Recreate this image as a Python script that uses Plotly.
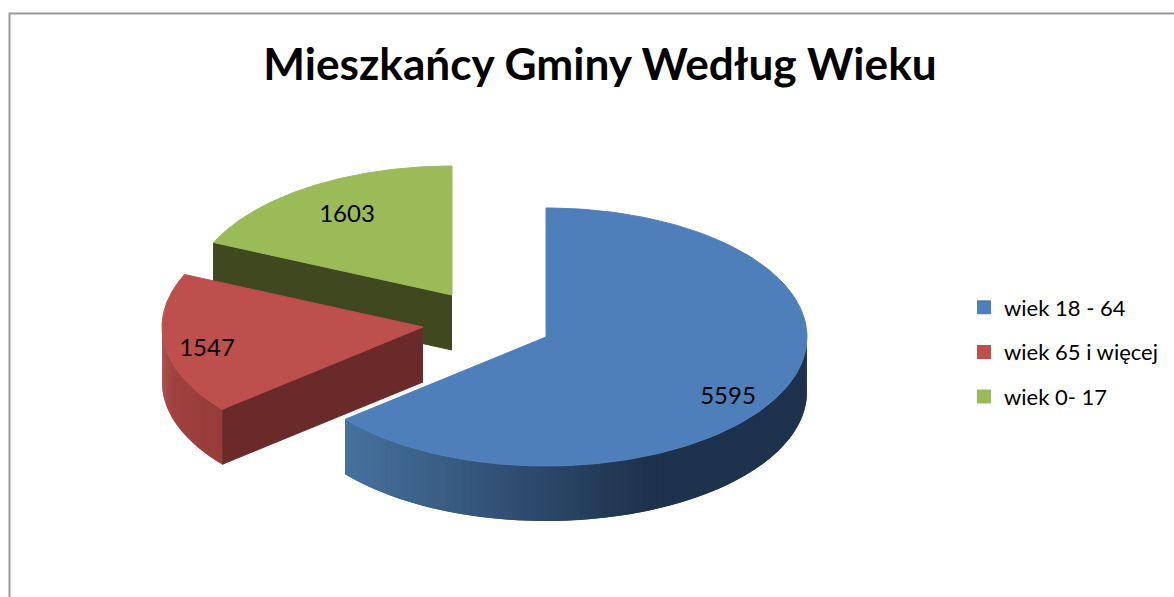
import numpy as np
import plotly.graph_objects as go

# ---- data ----
categories = ["wiek 18 - 64", "wiek 65 i więcej", "wiek 0- 17"]
values = [5595, 1547, 1603]

# ---- style / layout ----
top_colors = ["#4f7fbb", "#bd4f4c", "#9bbb59"]
wall_colors = [None, "#6b2a2a", "#40481f"]
rim_light = ["#47729f", "#a64644", "#7c9647"]
rim_dark = ["#1e324d", "#983d3b", "#7c9647"]
centers = [(546, 337), (423, 327), (452, 295)]
label_pos = [(728, 398), (207, 350), (347, 216)]
RX, RY, DEPTH = 261, 129, 55
W, H = 1174, 597


def pt(center, deg):
    a = np.radians(deg)
    return center[0] + RX * np.sin(a), center[1] - RY * np.cos(a)


def hexmix(c1, c2, t):
    a = [int(c1[i:i + 2], 16) for i in (1, 3, 5)]
    b = [int(c2[i:i + 2], 16) for i in (1, 3, 5)]
    return "#%02x%02x%02x" % tuple(round(x + (y - x) * t) for x, y in zip(a, b))


def poly(x, y, color, width=1):
    return go.Scatter(x=list(x), y=list(y), mode="lines", fill="toself", fillcolor=color,
                      line=dict(color=color, width=width), hoverinfo="skip", showlegend=False)


total = sum(values)
angles = np.cumsum([0] + values) / total * 360
fig = go.Figure()

# back to front: green, red, blue
for i in (2, 1, 0):
    c = centers[i]
    a0, a1 = angles[i], angles[i + 1]

    # straight cut wall visible from the front
    if wall_colors[i]:
        ex, ey = pt(c, a0)
        fig.add_trace(poly([c[0], ex, ex, c[0]], [c[1], ey, ey + DEPTH, c[1] + DEPTH], wall_colors[i]))

    # outer rim facing the viewer, as overlapping gradient strips
    r0, r1 = max(a0, 90), min(a1, 270)
    if r1 > r0:
        steps = np.linspace(r0, r1, 81)
        for k in range(len(steps) - 1):
            s0 = steps[k]
            arc = np.linspace(s0, steps[min(k + 2, len(steps) - 1)], 6)
            ax, ay = pt(c, arc)
            if i == 0:
                t = np.clip((ax[0] - 346) / (650 - 346), 0, 1)
                col = hexmix(rim_light[i], rim_dark[i], t)
            else:
                t = (s0 - r0) / (r1 - r0)
                col = hexmix(rim_dark[i], rim_light[i], t)
            fig.add_trace(poly(np.r_[ax, ax[::-1]], np.r_[ay, ay[::-1] + DEPTH], col, width=0))

    # top face
    th = np.linspace(a0, a1, 160)
    px, py = pt(c, th)
    fig.add_trace(poly(np.r_[c[0], px, c[0]], np.r_[c[1], py, c[1]], top_colors[i]))

# value labels
fig.add_trace(go.Scatter(x=[p[0] for p in label_pos], y=[p[1] for p in label_pos],
                         mode="text", text=[str(v) for v in values],
                         textfont=dict(family="Lato", size=24, color="#000000"),
                         hoverinfo="skip", showlegend=False))

# legend entries
for i, name in enumerate(categories):
    fig.add_trace(go.Scatter(x=[None], y=[None], mode="markers", name=name, legendgroup=name,
                             marker=dict(symbol="square", size=14, color=top_colors[i])))

fig.update_layout(
    width=W, height=H,
    margin=dict(l=0, r=0, t=0, b=0),
    paper_bgcolor="white", plot_bgcolor="white",
    title=dict(text="<b>Mieszkańcy Gminy Według Wieku</b>", x=600 / W, xanchor="center",
               xref="paper", yref="container", y=1 - 65 / H, yanchor="middle",
               font=dict(family="Lato", size=44.2, color="#000000")),
    xaxis=dict(range=[0, W], visible=False, fixedrange=True),
    yaxis=dict(range=[H, 0], visible=False, fixedrange=True),
    legend=dict(x=964 / W, y=1 - 352 / H, xanchor="left", yanchor="middle", tracegroupgap=13,
                itemwidth=30, bgcolor="rgba(0,0,0,0)",
                font=dict(family="Lato", size=22, color="#000000")),
    shapes=[dict(type="path", path=f"M 9.5,{H} L 9.5,13.5 L {W},13.5",
                 line=dict(color="#9a9a9a", width=2))],
)

fig.write_html("out.html", config=dict(displayModeBar=False),
               post_script="document.body.style.margin='0';document.body.style.overflow='hidden';")
